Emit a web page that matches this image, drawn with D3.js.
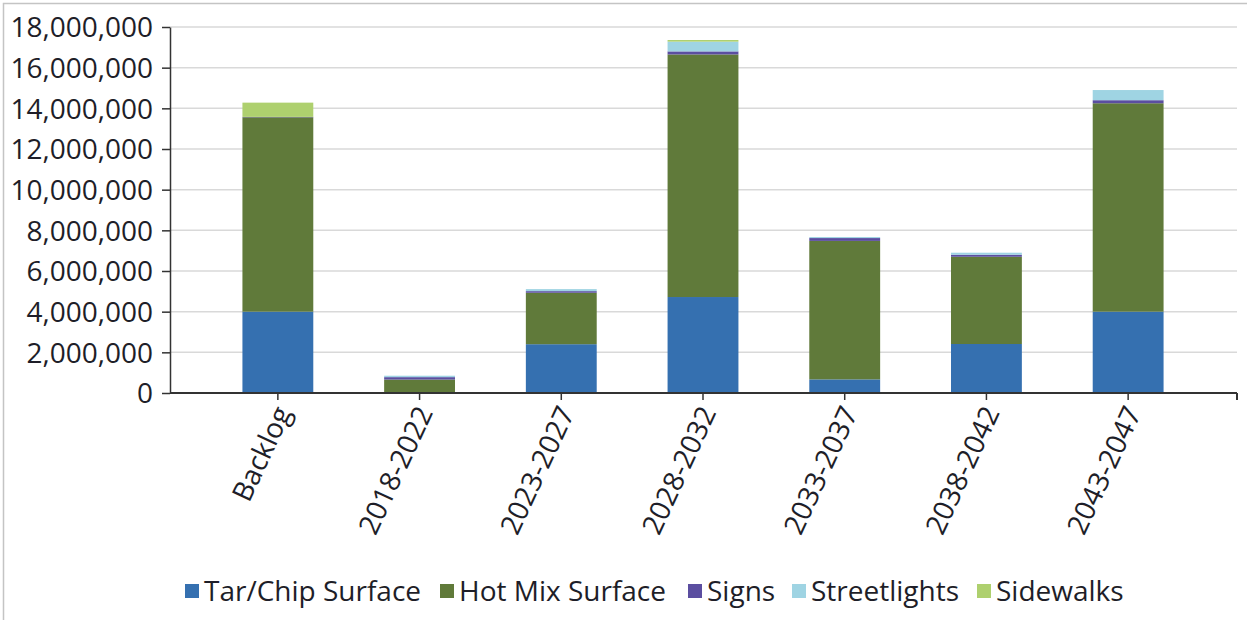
<!DOCTYPE html>
<html>
<head>
<meta charset="utf-8">
<script src="https://cdn.jsdelivr.net/npm/d3@7"></script>
<style>
  html, body { margin: 0; padding: 0; background: #fff; }
  svg { display: block; font-family: "Open Sans", sans-serif; }
</style>
</head>
<body>
<svg id="chart" width="1247" height="620"></svg>
<script>
// Categories (time periods) and stacked series values
const categories = ["Backlog", "2018-2022", "2023-2027", "2028-2032", "2033-2037", "2038-2042", "2043-2047"];
const seriesNames = ["Tar/Chip Surface", "Hot Mix Surface", "Signs", "Streetlights", "Sidewalks"];
const tarChip      = [4000000, 0,      2400000, 4720000, 670000,  2410000, 4000000];
const hotMix       = [9560000, 660000, 2530000, 11930000, 6810000, 4290000, 10250000];
const signs        = [20000,   120000, 80000,   150000,  140000,  100000,  150000];
const streetlights = [0,       70000,  100000,  480000,  50000,   100000,  500000];
const sidewalks    = [700000,  0,      0,       80000,   0,       0,       0];
const yTicks = [0, 2000000, 4000000, 6000000, 8000000, 10000000, 12000000, 14000000, 16000000, 18000000];
const colors = ["#3570b0", "#607a3a", "#5b4ea0", "#9fd4e3", "#aed06e"];

const rows = categories.map((c, i) => ({
  cat: c,
  "Tar/Chip Surface": tarChip[i],
  "Hot Mix Surface": hotMix[i],
  "Signs": signs[i],
  "Streetlights": streetlights[i],
  "Sidewalks": sidewalks[i]
}));

const svg = d3.select("#chart");
const plotLeft = 170, plotRight = 1237, plotTop = 27, plotBottom = 393;
const fontSize = 28;
const textColor = "#1e1e28";

// outer frame
svg.append("rect").attr("x", 3.5).attr("y", 3.5).attr("width", 1260).attr("height", 640)
  .attr("fill", "none").attr("stroke", "#c4c4c4").attr("stroke-width", 1.5);

const x = d3.scaleBand().domain(categories).range([207, 1199]).paddingInner(0.5).paddingOuter(0.25);
const y = d3.scaleLinear().domain([0, 18000000]).range([plotBottom, plotTop]);

// gridlines
svg.append("g").selectAll("line").data(yTicks.filter(d => d > 0)).join("line")
  .attr("x1", plotLeft).attr("x2", plotRight)
  .attr("y1", d => y(d)).attr("y2", d => y(d))
  .attr("stroke", "#d9d9d9").attr("stroke-width", 1.5);

// stacked bars
const stack = d3.stack().keys(seriesNames)(rows);
svg.append("g").selectAll("g").data(stack).join("g")
  .attr("fill", (d, i) => colors[i])
  .selectAll("rect").data(d => d).join("rect")
  .attr("x", d => x(d.data.cat))
  .attr("width", x.bandwidth())
  .attr("y", d => y(d[1]))
  .attr("height", d => y(d[0]) - y(d[1]));

// y axis
const yAxis = d3.axisLeft(y).tickValues(yTicks).tickSize(8).tickSizeOuter(0)
  .tickFormat(d3.format(","));
const gy = svg.append("g").attr("transform", `translate(${plotLeft},0)`).call(yAxis);
gy.select(".domain").attr("stroke", "#333").attr("stroke-width", 1.5);
gy.selectAll(".tick line").attr("stroke", "#333").attr("stroke-width", 1.5);
gy.selectAll(".tick text").attr("font-size", fontSize).attr("fill", textColor)
  .attr("font-family", "'Open Sans', sans-serif").attr("x", -17).attr("dy", "0.35em");

// x axis
const gx = svg.append("g").attr("transform", `translate(0,${plotBottom})`);
gx.append("line").attr("x1", plotLeft).attr("x2", plotRight).attr("stroke", "#333").attr("stroke-width", 2);
gx.append("line").attr("x1", plotRight).attr("x2", plotRight).attr("y1", 0).attr("y2", 7)
  .attr("stroke", "#333").attr("stroke-width", 2);
const xt = gx.selectAll("g.tick").data(categories).join("g").attr("class", "tick")
  .attr("transform", d => `translate(${x(d) + x.bandwidth() / 2},0)`);
xt.append("line").attr("y2", 7).attr("stroke", "#333").attr("stroke-width", 1.5);
xt.append("text")
  .attr("transform", "translate(5,15) rotate(-65)")
  .attr("text-anchor", "end").attr("dy", "0.35em")
  .attr("font-size", fontSize).attr("fill", textColor)
  .text(d => d);

// legend
const legendX = [185, 440, 688, 792, 977];
const lg = svg.append("g").attr("transform", "translate(0,591)");
const items = lg.selectAll("g").data(seriesNames).join("g")
  .attr("transform", (d, i) => `translate(${legendX[i]},0)`);
items.append("rect").attr("x", 0).attr("y", -7).attr("width", 14).attr("height", 14)
  .attr("fill", (d, i) => colors[i]);
items.append("text").attr("x", 19).attr("dy", "0.35em")
  .attr("font-size", fontSize).attr("fill", textColor).text(d => d);
</script>
</body>
</html>
